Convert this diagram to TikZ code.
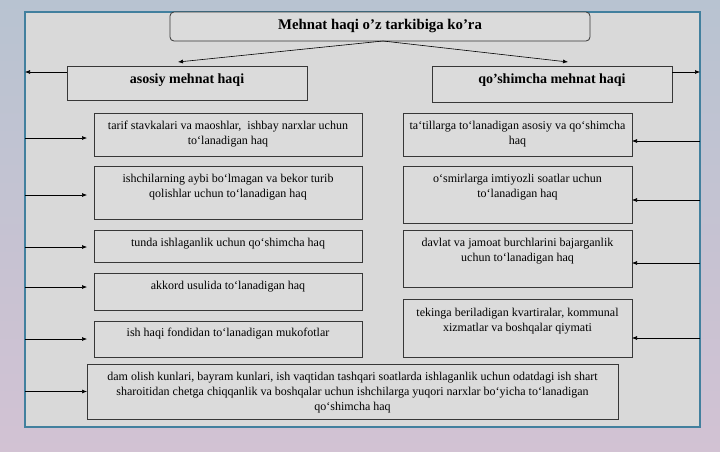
\documentclass[tikz,border=0pt]{standalone}
\usepackage{fontspec}
\setmainfont{Liberation Serif}
\usetikzlibrary{arrows.meta,calc}
\definecolor{bgtop}{RGB}{184,195,209}
\definecolor{bgbot}{RGB}{210,194,211}
\definecolor{panelfill}{RGB}{217,217,217}
\definecolor{boxfill}{RGB}{219,219,219}
\definecolor{panelborder}{RGB}{66,128,158}
\definecolor{boxborder}{RGB}{55,55,55}
\begin{document}
\begin{tikzpicture}[x=1pt,y=-1pt,
  every node/.style={outer sep=0pt},
  box/.style={draw=boxborder,line width=0.8pt,fill=boxfill,inner sep=0pt,anchor=north west},
  txt/.style={anchor=north,align=center,inner sep=0pt,font=\fontsize{12}{15}\selectfont},
  head/.style={inner sep=0pt,font=\bfseries\fontsize{14}{16}\selectfont},
  arr/.style={draw=black,line width=0.6pt,-{Latex[length=5pt,width=4pt]}}
]
\useasboundingbox (0,0) rectangle (720,451);
\shade[top color=bgtop,bottom color=bgbot] (0,0) rectangle (720,451);
\node[draw=panelborder,line width=2pt,fill=panelfill,minimum width=675pt,minimum height=415pt,anchor=north west,inner sep=0pt] (P) at (25,12) {};

% title
\node[box,rounded corners=4pt,minimum width=420pt,minimum height=29pt] (T) at (170,12) {};
\node[head,font=\bfseries\fontsize{14.8}{16}\selectfont] (Tt) at ([yshift=1pt]T.center) {Mehnat haqi oʼz tarkibiga koʼra};

% headings
\node[box,minimum width=240pt,minimum height=34pt] (A) at (67,66) {};
\node[head] (At) at ([yshift=3pt]A.center) {asosiy mehnat haqi};
\node[box,minimum width=240pt,minimum height=36pt] (Q) at (432,66) {};
\node[head] (Qt) at ([yshift=4pt]Q.center) {qo’shimcha mehnat haqi};

% left boxes
\node[box,minimum width=268pt,minimum height=43pt] (L1) at (94,113) {};
\node[txt] (L1t) at ([yshift=-8pt]L1.north) {tarif stavkalari va maoshlar,\ \ ishbay narxlar uchun\\toʻlanadigan haq};
\node[box,minimum width=268pt,minimum height=53pt] (L2) at (94,166) {};
\node[txt] (L2t) at ([yshift=-8pt]L2.north) {ishchilarning aybi boʻlmagan va bekor turib\\qolishlar uchun toʻlanadigan haq};
\node[box,minimum width=268pt,minimum height=32pt] (L3) at (94,230) {};
\node[txt] (L3t) at ([yshift=-8pt]L3.north) {tunda ishlaganlik uchun qoʻshimcha haq};
\node[box,minimum width=268pt,minimum height=37pt] (L4) at (94,273) {};
\node[txt] (L4t) at ([yshift=-8pt]L4.north) {akkord usulida toʻlanadigan haq};
\node[box,minimum width=268pt,minimum height=36pt] (L5) at (94,321) {};
\node[txt] (L5t) at ([yshift=-7pt]L5.north) {ish haqi fondidan toʻlanadigan mukofotlar};

% right boxes
\node[box,minimum width=229pt,minimum height=43pt] (R1) at (403,113) {};
\node[txt] (R1t) at ([yshift=-8pt]R1.north) {taʻtillarga toʻlanadigan asosiy va qoʻshimcha\\haq};
\node[box,minimum width=229pt,minimum height=57pt] (R2) at (403,166) {};
\node[txt] (R2t) at ([yshift=-8pt]R2.north) {oʻsmirlarga imtiyozli soatlar uchun\\toʻlanadigan haq};
\node[box,minimum width=229pt,minimum height=57pt] (R3) at (403,230) {};
\node[txt] (R3t) at ([yshift=-8pt]R3.north) {davlat va jamoat burchlarini bajarganlik\\uchun toʻlanadigan haq};
\node[box,minimum width=229pt,minimum height=58pt] (R4) at (403,299) {};
\node[txt] (R4t) at ([yshift=-9pt]R4.north) {tekinga beriladigan kvartiralar, kommunal\\xizmatlar va boshqalar qiymati};

% bottom box
\node[box,minimum width=531pt,minimum height=55pt] (B) at (87,364) {};
\node[txt] (Bt) at ([yshift=-8pt]B.north) {dam olish kunlari, bayram kunlari, ish vaqtidan tashqari soatlarda ishlaganlik uchun odatdagi ish shart\\sharoitidan chetga chiqqanlik va boshqalar uchun ishchilarga yuqori narxlar boʻyicha toʻlanadigan\\qoʻshimcha haq};

% connectors from title
\draw[arr] ([xshift=3pt]T.south) -- ([xshift=-9pt,yshift=4pt]A.north);
\draw[arr] ([xshift=3pt]T.south) -- ([xshift=16pt,yshift=4pt]Q.north);

% headings to panel sides
\path ([yshift=-6pt]A.north west) coordinate (a1);
\draw[arr] (a1) -- (a1 -| P.west);
\path ([yshift=-6pt]Q.north east) coordinate (q1);
\draw[arr] (q1) -- (q1 -| P.east);

% left side arrows
\foreach \n/\dy in {L1/-3.5,L2/-2.5,L3/-1,L4/4.5,L5/0}{
  \path ([xshift=-7pt,yshift=\dy pt]\n.west) coordinate (t\n);
  \draw[arr] (t\n -| P.west) -- (t\n);
}
\path (B.west) coordinate (tB);
\draw[arr] (tB -| P.west) -- (tB);

% right side arrows
\foreach \n/\dy in {R1/-6.5,R2/-5.5,R3/-4.5,R4/-10}{
  \path ([yshift=\dy pt]\n.east) coordinate (t\n);
  \draw[arr] (t\n -| P.east) -- (t\n);
}
\end{tikzpicture}
\end{document}
